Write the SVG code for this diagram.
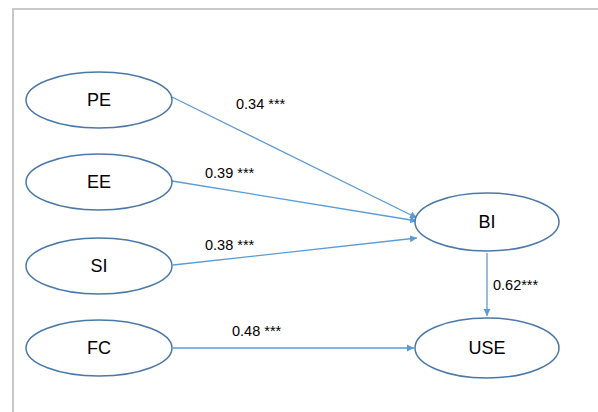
<svg xmlns="http://www.w3.org/2000/svg" width="598" height="412" viewBox="0 0 598 412">
<defs>
<marker id="ah" markerWidth="8" markerHeight="8" refX="7" refY="4" orient="auto" markerUnits="userSpaceOnUse">
<path d="M0,0.5 L7,4 L0,7.5 Z" fill="#5B9BD5"/>
</marker>
<style>
.node ellipse{fill:#fff;stroke:#4A78A8;stroke-width:1.5}
.node text{font-family:"Liberation Sans",Arial,sans-serif;font-size:18px;fill:#000;text-anchor:middle;dominant-baseline:central}
.edges line{stroke:#5B9BD5;stroke-width:1.3;marker-end:url(#ah)}
.lbl{font-family:"Liberation Sans",Arial,sans-serif;font-size:14.5px;fill:#000}
</style>
</defs>
<rect x="0" y="0" width="598" height="412" fill="#fff"/>
<path d="M13,412 V9 H598" fill="none" stroke="#C8C8C8" stroke-width="2"/>
<g class="edges">
<line x1="172" y1="97" x2="417" y2="218"/>
<line x1="172" y1="181" x2="417" y2="221"/>
<line x1="173" y1="265" x2="417" y2="238"/>
<line x1="173" y1="348" x2="414" y2="348"/>
<line x1="487" y1="253" x2="487" y2="316"/>
<text class="lbl" x="236" y="109">0.34 ***</text>
<text class="lbl" x="205" y="178">0.39 ***</text>
<text class="lbl" x="205" y="250">0.38 ***</text>
<text class="lbl" x="232" y="336">0.48 ***</text>
<text class="lbl" x="493" y="290">0.62***</text>
</g>
<g id="PE" class="node"><ellipse cx="99" cy="100" rx="73" ry="28"/><text x="99" y="100">PE</text></g>
<g id="EE" class="node"><ellipse cx="99" cy="182" rx="73" ry="28"/><text x="99" y="182">EE</text></g>
<g id="SI" class="node"><ellipse cx="99" cy="266" rx="73" ry="28"/><text x="99" y="266">SI</text></g>
<g id="FC" class="node"><ellipse cx="99" cy="348" rx="73" ry="28"/><text x="99" y="348">FC</text></g>
<g id="BI" class="node"><ellipse cx="487" cy="222" rx="72" ry="29"/><text x="487" y="222">BI</text></g>
<g id="USE" class="node"><ellipse cx="487" cy="348" rx="72" ry="30"/><text x="487" y="348">USE</text></g>
</svg>
